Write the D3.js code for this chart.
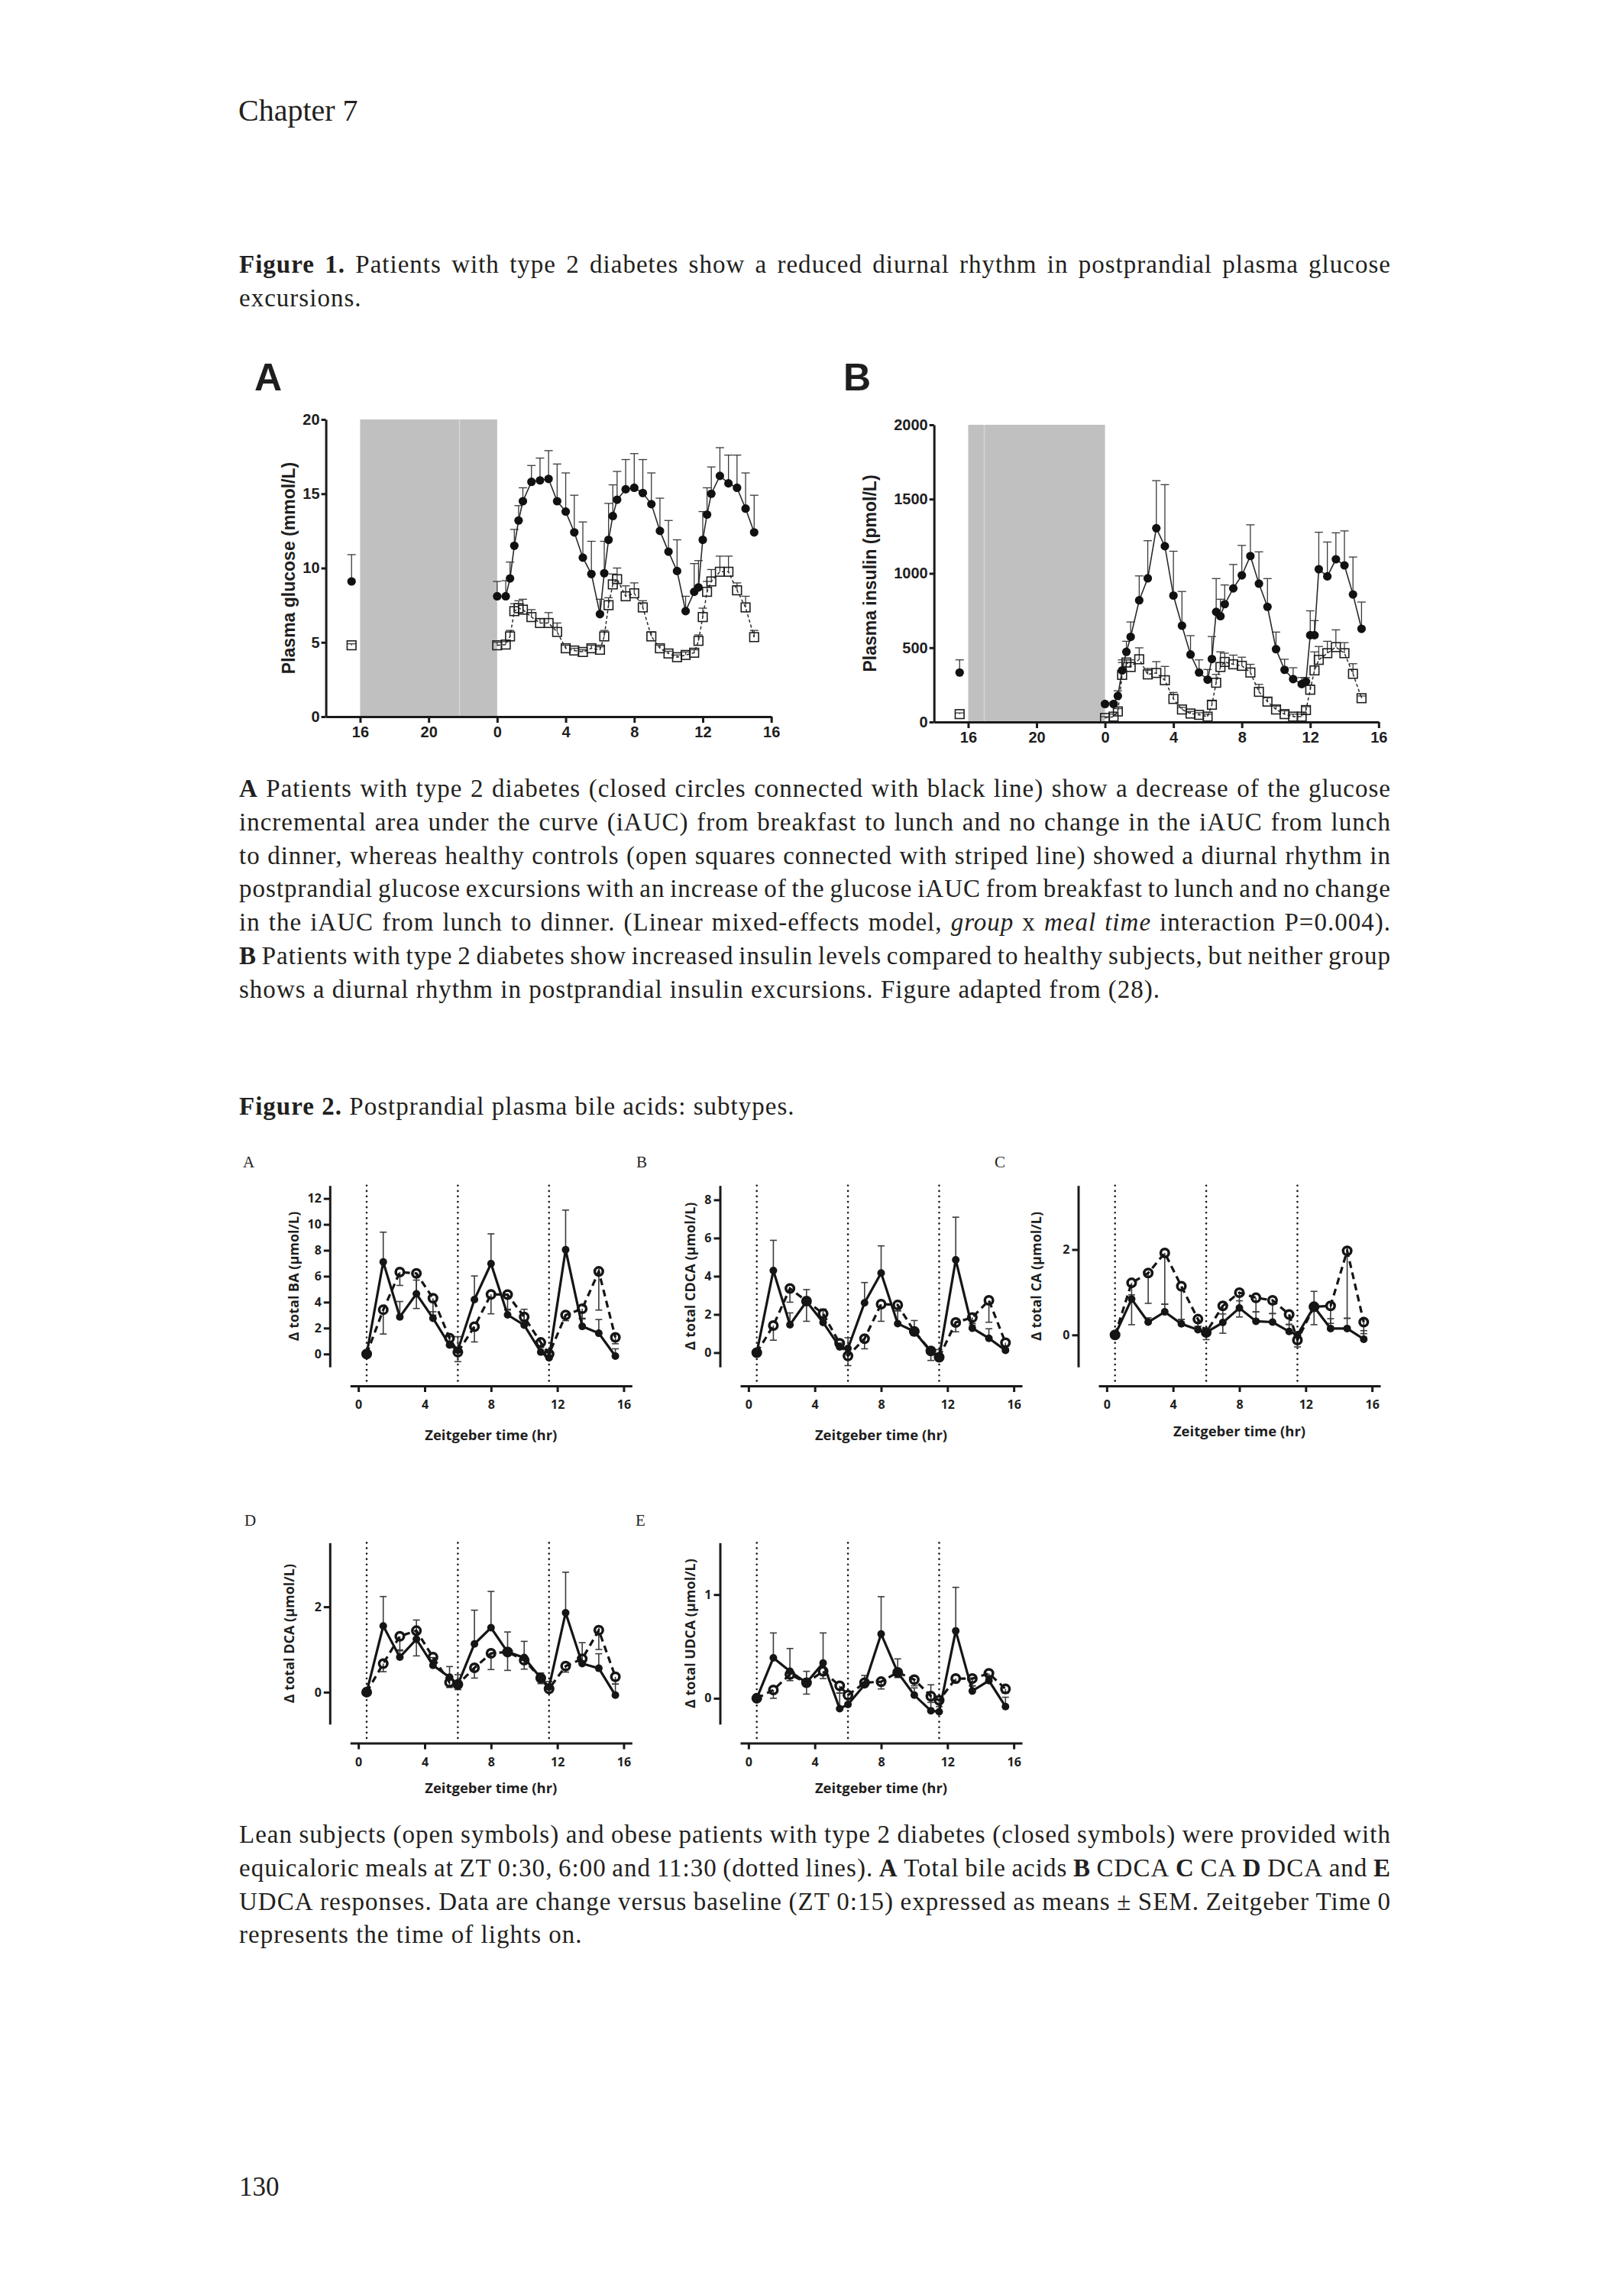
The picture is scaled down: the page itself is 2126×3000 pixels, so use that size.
<!DOCTYPE html>
<html lang="en">
<head>
<meta charset="UTF-8">
<title>Chapter 7 - Figures 1 and 2</title>
<script src="https://d3js.org/d3.v7.min.js"></script>
<style>
  body { margin: 0; background: #fff; }
  svg { display: block; }
  .f1 text { font-family: 'Liberation Sans', Arial, sans-serif; font-weight: bold; fill: #1e1e1e; }
  .f2 text { font-family: 'Open Sans', Lato, sans-serif; font-weight: bold; fill: #1e1e1e; }
  .body-text { font-family: 'Liberation Serif', 'Times New Roman', serif; fill: #231f20; }
</style>
</head>
<body>
<script>
// ---------- page text ----------
const chapterTitle = "Chapter 7";
const fig1Caption = [
  "**Figure 1.** Patients with type 2 diabetes show a reduced diurnal rhythm in postprandial plasma glucose",
  "excursions."
];
const fig1Legend = [
  "**A** Patients with type 2 diabetes (closed circles connected with black line) show a decrease of the glucose",
  "incremental area under the curve (iAUC) from breakfast to lunch and no change in the iAUC from lunch",
  "to dinner, whereas healthy controls (open squares connected with striped line) showed a diurnal rhythm in",
  "postprandial glucose excursions with an increase of the glucose iAUC from breakfast to lunch and no change",
  "in the iAUC from lunch to dinner. (Linear mixed-effects model, *group* x *meal time* interaction P=0.004).",
  "**B** Patients with type 2 diabetes show increased insulin levels compared to healthy subjects, but neither group",
  "shows a diurnal rhythm in postprandial insulin excursions. Figure adapted from (28)."
];
const fig2Caption = ["**Figure 2.** Postprandial plasma bile acids: subtypes."];
const fig2Legend = [
  "Lean subjects (open symbols) and obese patients with type 2 diabetes (closed symbols) were provided with",
  "equicaloric meals at ZT 0:30, 6:00 and 11:30 (dotted lines). **A** Total bile acids **B** CDCA **C** CA **D** DCA and **E**",
  "UDCA responses. Data are change versus baseline (ZT 0:15) expressed as means ± SEM. Zeitgeber Time 0",
  "represents the time of lights on."
];
const pageNumber = "130";

// ---------- Figure 1 data (hours after lights on) ----------
const fig1Times = [0,0.5,0.75,1,1.25,1.5,2,2.5,3,3.5,4,4.5,5,5.5,6,6.25,6.5,6.75,7,7.5,8,8.5,9,9.5,10,10.5,11,11.5,11.75,12,12.25,12.5,13,13.5,14,14.5,15];
const fig1XTicks = [16,20,24,28,32,36,40];
const fig1BaselineTime = 15.5;   // evening before

const glucoseT2D = [8.1,8.1,9.3,11.5,13.2,14.5,15.8,15.9,16.0,14.5,13.8,12.4,10.7,9.6,6.9,9.65,11.9,13.5,14.6,15.3,15.4,15.05,14.3,12.5,11.1,9.8,7.1,8.4,8.7,11.9,13.6,15.0,16.2,15.7,15.4,14.0,12.4];
const glucoseT2DSem = [1.0,1.05,1.1,1.1,1.0,0.9,1.1,1.5,1.9,2.5,2.6,2.5,2.4,2.2,1.0,2.15,2.45,2.1,1.9,2.0,2.3,2.25,2.1,2.2,2.1,2.1,1.0,1.9,1.8,1.9,1.8,1.8,1.9,1.9,2.2,2.4,2.5];
const glucoseCtrl = [4.8,4.85,5.4,7.1,7.3,7.2,6.7,6.3,6.3,5.7,4.6,4.45,4.35,4.6,4.5,5.4,7.5,8.9,9.25,8.1,8.3,7.35,5.4,4.6,4.25,4.0,4.15,4.3,5.1,6.7,8.4,9.1,9.75,9.75,8.5,7.35,5.35];
const glucoseCtrlSem = [0.2,0.2,0.4,0.5,0.5,0.7,0.5,0.3,0.7,0.6,0.2,0.15,0.15,0.2,0.2,0.4,0.5,0.7,0.75,0.7,0.7,0.45,0.3,0.2,0.15,0.15,0.2,0.2,0.4,0.6,0.7,0.8,1.05,1.05,0.5,0.75,0.45];
const glucoseBaseline = [9.1, 4.8];      // [T2D, control]
const glucoseBaselineSem = [1.8, 0.1];

const insulinT2D = [121,121,175,347,472,573,819,967,1304,1183,851,648,454,333,285,424,741,712,793,899,987,1117,931,775,490,351,289,255,271,584,584,1028,980,1095,1054,858,627];
const insulinT2DSem = [9,14,35,71,71,100,164,253,320,414,298,230,127,85,68,151,224,114,129,161,201,210,214,190,115,71,76,44,28,164,98,249,231,178,232,252,180];
const insulinCtrl = [27,36,71,317,400,370,422,320,330,281,155,84,57,48,36,116,264,370,404,388,378,333,203,137,84,53,36,36,80,217,347,418,463,504,463,324,160];
const insulinCtrlSem = [9,17,19,83,18,48,77,40,76,93,44,14,14,14,17,26,56,102,59,62,58,55,50,27,23,22,17,17,23,32,125,90,80,116,71,68,15];
const insulinBaseline = [333, 53];
const insulinBaselineSem = [85, 8];

// ---------- Figure 2 data (Zeitgeber time) ----------
const fig2Times = [0.5,1.5,2.5,3.5,4.5,5.5,6,7,8,9,10,11,11.5,12.5,13.5,14.5,15.5];
const mealTimes = [0.5, 6, 11.5];
const fig2XTicks = [0,4,8,12,16];

const baT2D = [0,7.1,2.86,4.64,2.76,0.69,0.3,4.2,6.97,3.02,2.23,0.15,-0.3,8.05,2.13,1.6,-0.16];
const baT2DSem = [0,2.3,1.19,1.06,0.5,0.65,1.04,1.82,2.3,0.43,1.22,0.35,0.4,3.05,0.57,1.06,0.56];
const baLean = [0,3.41,6.32,6.22,4.3,1.22,0.14,2.11,4.6,4.58,2.86,0.89,0.0,3.0,3.49,6.37,1.28];
const baLeanSem = [0,1.87,1.03,2.71,1.3,0.4,0.73,1.18,1.5,1.19,0.3,0.3,0.3,0.43,0.73,2.98,0.49];

const cdcaT2D = [0,4.3,1.46,2.68,1.58,0.3,0.22,2.61,4.17,1.52,1.11,0.05,-0.24,4.86,1.28,0.75,0.12];
const cdcaT2DSem = [0,1.58,0.62,0.62,0.7,0.2,0.56,1.06,1.42,0.67,0.57,0.1,0.4,2.23,0.25,0.5,0.1];
const cdcaLean = [0,1.42,3.36,2.7,2.04,0.49,-0.17,0.73,2.54,2.5,1.11,0.09,-0.24,1.58,1.84,2.74,0.52];
const cdcaLeanSem = [0,0.77,0.72,1.06,0.5,0.2,0.51,0.53,0.9,0.31,0.2,0.5,0.11,0.49,0.4,1.15,0.3];

const caT2D = [0,0.84,0.3,0.54,0.26,0.12,0.06,0.29,0.63,0.32,0.3,0.08,0,0.66,0.15,0.15,-0.1];
const caT2DSem = [0,0.1,0.1,0.18,0.1,0.08,0.04,0.2,0.17,0.22,0.2,0.16,0.05,0.36,0.23,0.24,0.2];
const caLean = [0,1.22,1.45,1.92,1.14,0.37,0.06,0.68,0.99,0.87,0.81,0.48,-0.12,0.66,0.68,1.97,0.3];
const caLeanSem = [0,0.98,0.71,1.2,0.78,0.17,0.17,0.64,0.57,0.33,0.31,0.23,0.16,0.42,0.41,1.58,0.27];

const dcaT2D = [0,1.55,0.82,1.24,0.63,0.35,0.18,1.13,1.51,0.94,0.81,0.33,0.12,1.86,0.67,0.56,-0.07];
const dcaT2DSem = [0,0.69,0.17,0.45,0.18,0.25,0.23,0.79,0.85,0.47,0.38,0.12,0.13,0.95,0.49,0.34,0.26];
const dcaLean = [0,0.67,1.31,1.44,0.82,0.23,0.18,0.57,0.91,0.94,0.75,0.33,0.08,0.61,0.78,1.45,0.36];
const dcaLeanSem = [0,0.19,0.34,0.59,0.2,0.12,0.12,0.24,0.38,0.43,0.21,0.13,0.08,0.14,0.13,0.45,0.17];

const udcaT2D = [0,0.39,0.26,0.15,0.34,-0.1,-0.06,0.13,0.62,0.25,0.03,-0.12,-0.13,0.65,0.07,0.17,-0.08];
const udcaT2DSem = [0,0.24,0.22,0.11,0.29,0.15,0.06,0.09,0.36,0.13,0.07,0.25,0.08,0.42,0.05,0.05,0.09];
const udcaLean = [0,0.08,0.23,0.15,0.26,0.12,0.03,0.15,0.16,0.25,0.18,0.02,-0.02,0.19,0.19,0.24,0.09];
const udcaLeanSem = [0,0.08,0.06,0.11,0.07,0.07,0.03,0.04,0.07,0.05,0.06,0.06,0.06,0.04,0.07,0.05,0.04];

// ---------- page ----------
const W = 2126, H = 3000;
const svg = d3.select("body").append("svg").attr("width", W).attr("height", H);
svg.append("rect").attr("width", W).attr("height", H).attr("fill", "#fff");

const LEFT = 313, RIGHT = 1821, BODY_SIZE = 33, LINE_H = 43.8;

// split "**bold** and *italic*" markup into words made of styled runs
function parseLine(line) {
  const words = [];
  let cur = [], run = "", b = false, i = false;
  const flush = () => { if (run) { cur.push({t: run, b, i}); run = ""; } };
  for (let k = 0; k < line.length; k++) {
    const c = line[k];
    if (c === "*" && line[k + 1] === "*") { flush(); b = !b; k++; continue; }
    if (c === "*") { flush(); i = !i; continue; }
    if (c === " ") { flush(); if (cur.length) words.push(cur); cur = []; continue; }
    run += c;
  }
  flush();
  if (cur.length) words.push(cur);
  return words;
}

const meas = svg.append("text").attr("class", "body-text").attr("x", -2000).attr("y", -100);
let letterSp = 0;
function textWidth(str, size, b, i) {
  meas.attr("font-size", size).attr("font-weight", b ? "bold" : "normal")
      .attr("font-style", i ? "italic" : "normal").style("letter-spacing", letterSp + "px").text(str);
  return meas.node().getComputedTextLength();
}

// tune letter spacing so the unjustified reference line matches its width in the original
{
  const ref = fig1Legend[6].replace(/\*/g, "");
  const w = textWidth(ref, BODY_SIZE, false, false);
  letterSp = Math.max(-1, Math.min(1.2, (1519 - LEFT - w) / ref.length));
}

function drawLine(line, x0, y, size, justifyTo) {
  const words = parseLine(line).map(runs => {
    runs.forEach(r => r.w = textWidth(r.t, size, r.b, r.i));
    return {runs, w: d3.sum(runs, r => r.w)};
  });
  const total = d3.sum(words, w => w.w);
  const space = textWidth("a a", size) - textWidth("aa", size);
  const gap = justifyTo && words.length > 1 ? (justifyTo - x0 - total) / (words.length - 1) : space;
  const t = svg.append("text").attr("class", "body-text").attr("y", y)
      .attr("font-size", size).style("letter-spacing", letterSp + "px");
  let cx = x0;
  words.forEach(w => {
    w.runs.forEach((r, j) => {
      const ts = t.append("tspan").text(r.t)
          .attr("font-weight", r.b ? "bold" : "normal")
          .attr("font-style", r.i ? "italic" : "normal");
      if (j === 0) ts.attr("x", cx);
    });
    cx += w.w + gap;
  });
}

function drawParagraph(lines, y0, lastIdx) {
  lines.forEach((ln, k) => drawLine(ln, LEFT, y0 + k * LINE_H, BODY_SIZE, lastIdx.includes(k) ? null : RIGHT));
}

svg.append("text").attr("class", "body-text").attr("x", LEFT - 1).attr("y", 158)
   .attr("font-size", 40).text(chapterTitle);
drawParagraph(fig1Caption, 357, [1]);
drawParagraph(fig1Legend, 1043, [6]);
drawParagraph(fig2Caption, 1459, [0]);
drawParagraph(fig2Legend, 2412, [3]);
svg.append("text").attr("class", "body-text").attr("x", LEFT).attr("y", 2874)
   .attr("font-size", 35).text(pageNumber);

function styleAxis(sel, width, size) {
  sel.attr("font-size", null).attr("font-family", null);
  sel.select(".domain").attr("stroke", "#1a1a1a").attr("stroke-width", width);
  sel.selectAll(".tick line").attr("stroke", "#1a1a1a").attr("stroke-width", width);
  sel.selectAll(".tick text").attr("font-size", size).attr("fill", null);
}

function errorBars(g, data, x, y, dir, cap, width, color) {
  const eb = g.append("g").attr("stroke", color).attr("stroke-width", width).attr("fill", "none");
  eb.selectAll("line.v").data(data).join("line").attr("class", "v")
    .attr("x1", d => x(d.t)).attr("x2", d => x(d.t))
    .attr("y1", d => y(d.v)).attr("y2", d => y(d.v + dir * d.e));
  eb.selectAll("line.c").data(data).join("line").attr("class", "c")
    .attr("x1", d => x(d.t) - cap / 2).attr("x2", d => x(d.t) + cap / 2)
    .attr("y1", d => y(d.v + dir * d.e)).attr("y2", d => y(d.v + dir * d.e));
}

// ---------- Figure 1 ----------
const fig1Panels = [
  {label: "A", labelX: 333, xr: [426.6, 1009.7], yr: [938, 549], ymax: 20, yticks: [0,5,10,15,20],
   ylabel: "Plasma glucose (mmol/L)", ylabelX: 378, seam: 21.8,
   t2d: glucoseT2D, t2dSem: glucoseT2DSem, ctrl: glucoseCtrl, ctrlSem: glucoseCtrlSem,
   base: glucoseBaseline, baseSem: glucoseBaselineSem},
  {label: "B", labelX: 1104, xr: [1222.7, 1804.8], yr: [945, 556], ymax: 2000, yticks: [0,500,1000,1500,2000],
   ylabel: "Plasma insulin (pmol/L)", ylabelX: 1138.5, seam: 16.94,
   t2d: insulinT2D, t2dSem: insulinT2DSem, ctrl: insulinCtrl, ctrlSem: insulinCtrlSem,
   base: insulinBaseline, baseSem: insulinBaselineSem}
];

fig1Panels.forEach(p => {
  const g = svg.append("g").attr("class", "f1");
  const x = d3.scaleLinear().domain([14, 40]).range(p.xr);
  const y = d3.scaleLinear().domain([0, p.ymax]).range(p.yr);

  g.append("rect").attr("x", x(16)).attr("y", y(p.ymax))
    .attr("width", x(24) - x(16)).attr("height", y(0) - y(p.ymax)).attr("fill", "#c0c0c0");
  g.append("line").attr("x1", x(p.seam)).attr("x2", x(p.seam)).attr("y1", y(p.ymax)).attr("y2", y(0))
    .attr("stroke", "#d6d6d6").attr("stroke-width", 1.5);

  const ya = g.append("g").attr("transform", `translate(${x(14)},0)`)
    .call(d3.axisLeft(y).tickValues(p.yticks).tickSize(6).tickSizeOuter(0).tickPadding(2).tickFormat(d3.format("d")));
  const xa = g.append("g").attr("transform", `translate(0,${y(0)})`)
    .call(d3.axisBottom(x).tickValues(fig1XTicks).tickSize(8).tickSizeOuter(0).tickPadding(5)
      .tickFormat(d => d >= 24 ? d - 24 : d));
  styleAxis(ya, 3, 20);
  styleAxis(xa, 3, 20);

  g.append("text").attr("x", p.labelX).attr("y", 511).attr("font-size", 50).text(p.label);
  g.append("text").attr("transform", `translate(${p.ylabelX},${(p.yr[0] + p.yr[1]) / 2}) rotate(-90)`)
    .attr("text-anchor", "middle").attr("dominant-baseline", "central").attr("font-size", 23).text(p.ylabel);

  const t2d = fig1Times.map((t, i) => ({t: 24 + t, v: p.t2d[i], e: p.t2dSem[i]}));
  const ctrl = fig1Times.map((t, i) => ({t: 24 + t, v: p.ctrl[i], e: p.ctrlSem[i]}));
  const baseT2D = [{t: fig1BaselineTime, v: p.base[0], e: p.baseSem[0]}];
  const baseCtrl = [{t: fig1BaselineTime, v: p.base[1], e: p.baseSem[1]}];

  errorBars(g, ctrl.concat(baseCtrl), x, y, 1, 11, 1.3, "#3a3a3a");
  errorBars(g, t2d.concat(baseT2D), x, y, 1, 11, 1.3, "#3a3a3a");

  const line = d3.line().x(d => x(d.t)).y(d => y(d.v));
  g.append("path").datum(ctrl).attr("d", line).attr("fill", "none")
    .attr("stroke", "#2a2a2a").attr("stroke-width", 1.5).attr("stroke-dasharray", "4 3");
  g.append("path").datum(t2d).attr("d", line).attr("fill", "none")
    .attr("stroke", "#2a2a2a").attr("stroke-width", 1.6);

  g.selectAll("rect.sq").data(ctrl.concat(baseCtrl)).join("rect").attr("class", "sq")
    .attr("x", d => x(d.t) - 5.8).attr("y", d => y(d.v) - 5.8).attr("width", 11.6).attr("height", 11.6)
    .attr("fill", "none").attr("stroke", "#1e1e1e").attr("stroke-width", 1.6);
  g.selectAll("circle.dot").data(t2d.concat(baseT2D)).join("circle").attr("class", "dot")
    .attr("cx", d => x(d.t)).attr("cy", d => y(d.v)).attr("r", 5.6).attr("fill", "#111");
});

// ---------- Figure 2 ----------
const ROW1 = 1551.7, ROW2 = 2019.3, AXIS_LEN = 237.5, AXIS_GAP = 24.8;
const fig2Panels = [
  {label: "A", lx: 318, ly: 1528, ox: 431.8, oy: ROW1, yd: [-1, 13], yt: [0,2,4,6,8,10,12],
   ylabel: "Δ total BA (μmol/L)", ylOff: 48, titleY: 1885,
   t2d: baT2D, t2dSem: baT2DSem, lean: baLean, leanSem: baLeanSem},
  {label: "B", lx: 833, ly: 1528, ox: 942.5, oy: ROW1, yd: [-0.75, 8.75], yt: [0,2,4,6,8],
   ylabel: "Δ total CDCA (μmol/L)", ylOff: 40, titleY: 1885,
   t2d: cdcaT2D, t2dSem: cdcaT2DSem, lean: cdcaLean, leanSem: cdcaLeanSem},
  {label: "C", lx: 1302, ly: 1528, ox: 1411.5, oy: ROW1, yd: [-0.75, 3.5], yt: [0,2],
   ylabel: "Δ total CA (μmol/L)", ylOff: 56, titleY: 1879.5,
   t2d: caT2D, t2dSem: caT2DSem, lean: caLean, leanSem: caLeanSem},
  {label: "D", lx: 320, ly: 1997, ox: 431.8, oy: ROW2, yd: [-0.75, 3.5], yt: [0,2],
   ylabel: "Δ total DCA (μmol/L)", ylOff: 54, titleY: 2346.5,
   t2d: dcaT2D, t2dSem: dcaT2DSem, lean: dcaLean, leanSem: dcaLeanSem},
  {label: "E", lx: 832, ly: 1997, ox: 942.5, oy: ROW2, yd: [-0.25, 1.5], yt: [0,1],
   ylabel: "Δ total UDCA (μmol/L)", ylOff: 40, titleY: 2346.5,
   t2d: udcaT2D, t2dSem: udcaT2DSem, lean: udcaLean, leanSem: udcaLeanSem}
];

fig2Panels.forEach(p => {
  svg.append("text").attr("class", "body-text").attr("x", p.lx).attr("y", p.ly)
     .attr("font-size", 21).text(p.label);

  const g = svg.append("g").attr("class", "f2");
  const x = d3.scaleLinear().domain([-0.5, 16.5]).range([p.ox + 26.5, p.ox + 395.5]);
  const y = d3.scaleLinear().domain(p.yd).range([p.oy + AXIS_LEN, p.oy]);
  const axisY = p.oy + AXIS_LEN + AXIS_GAP;

  g.selectAll("line.meal").data(mealTimes).join("line").attr("class", "meal")
    .attr("x1", d => x(d)).attr("x2", d => x(d)).attr("y1", p.oy).attr("y2", axisY)
    .attr("stroke", "#1a1a1a").attr("stroke-width", 2.6)
    .attr("stroke-linecap", "round").attr("stroke-dasharray", "0.1 7");

  const ya = g.append("g").attr("transform", `translate(${p.ox},0)`)
    .call(d3.axisLeft(y).tickValues(p.yt).tickSize(8).tickSizeOuter(0).tickPadding(3).tickFormat(d3.format("d")));
  const xa = g.append("g").attr("transform", `translate(0,${axisY})`)
    .call(d3.axisBottom(x).tickValues(fig2XTicks).tickSize(8).tickSizeOuter(0).tickPadding(11));
  styleAxis(ya, 3, 16);
  styleAxis(xa, 3, 16);

  const t2d = fig2Times.map((t, i) => ({t, v: p.t2d[i], e: p.t2dSem[i]}));
  const lean = fig2Times.map((t, i) => ({t, v: p.lean[i], e: p.leanSem[i]}));

  errorBars(g, t2d.filter(d => d.e > 0), x, y, 1, 9, 1.6, "#3c3c3c");
  errorBars(g, lean.filter(d => d.e > 0), x, y, -1, 9, 1.6, "#3c3c3c");

  const line = d3.line().x(d => x(d.t)).y(d => y(d.v));
  g.append("path").datum(lean).attr("d", line).attr("fill", "none")
    .attr("stroke", "#151515").attr("stroke-width", 3.2).attr("stroke-dasharray", "9 6");
  g.append("path").datum(t2d).attr("d", line).attr("fill", "none")
    .attr("stroke", "#151515").attr("stroke-width", 3.2);

  g.selectAll("circle.open").data(lean).join("circle").attr("class", "open")
    .attr("cx", d => x(d.t)).attr("cy", d => y(d.v)).attr("r", 5.3)
    .attr("fill", "none").attr("stroke", "#151515").attr("stroke-width", 3.5);
  g.selectAll("circle.closed").data(t2d).join("circle").attr("class", "closed")
    .attr("cx", d => x(d.t)).attr("cy", d => y(d.v)).attr("r", 5).attr("fill", "#151515");

  g.append("text").attr("transform", `translate(${p.ox - p.ylOff},${p.oy + AXIS_LEN / 2}) rotate(-90)`)
    .attr("text-anchor", "middle").attr("dominant-baseline", "central").attr("font-size", 18).text(p.ylabel);
  g.append("text").attr("x", (x(-0.5) + x(16.5)) / 2).attr("y", p.titleY)
    .attr("text-anchor", "middle").attr("font-size", 18.5).text("Zeitgeber time (hr)");
});
meas.remove();
</script>
</body>
</html>
